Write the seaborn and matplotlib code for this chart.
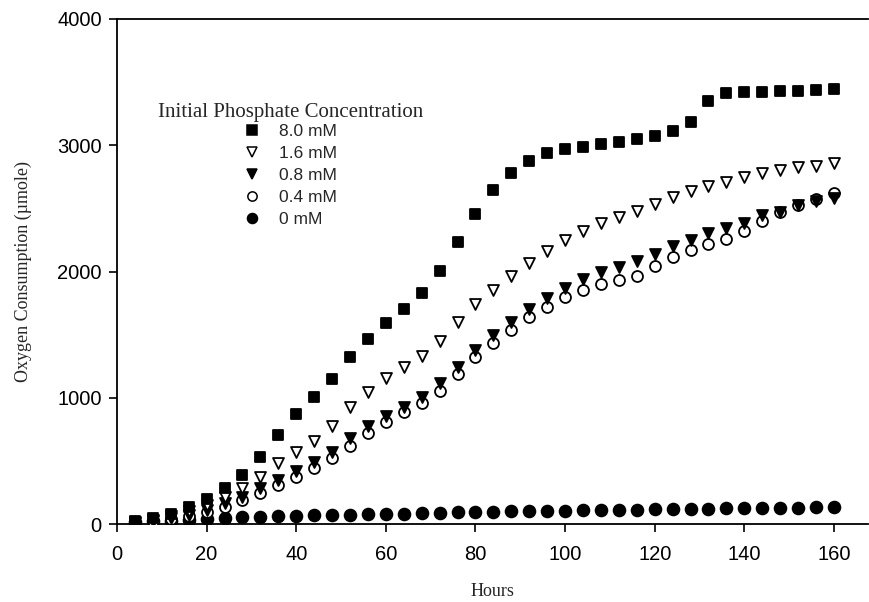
import numpy as np
import pandas as pd
import matplotlib
matplotlib.use("Agg")
import matplotlib.pyplot as plt
import seaborn as sns
from matplotlib.lines import Line2D

hours = list(range(4, 161, 4))

conc_8_0 = [24, 50, 80, 135, 198, 283, 388, 533, 705, 869,
            1008, 1151, 1320, 1463, 1590, 1700, 1827, 2006, 2236, 2455,
            2646, 2783, 2875, 2936, 2970, 2989, 3010, 3028, 3052, 3073,
            3113, 3184, 3350, 3411, 3419, 3424, 3432, 3432, 3438, 3446]
conc_1_6 = [15, 35, 60, 100, 150, 216, 283, 370, 481, 573,
            660, 776, 924, 1048, 1154, 1241, 1333, 1450, 1602, 1740,
            1853, 1967, 2070, 2165, 2250, 2322, 2382, 2429, 2482, 2535,
            2593, 2638, 2680, 2711, 2746, 2778, 2804, 2825, 2836, 2857]
conc_0_8 = [10, 25, 45, 75, 110, 164, 216, 283, 349, 422,
            489, 568, 679, 776, 858, 929, 1003, 1114, 1246, 1378,
            1497, 1602, 1700, 1788, 1872, 1940, 1996, 2038, 2083, 2139,
            2202, 2250, 2303, 2342, 2387, 2447, 2474, 2527, 2555, 2582]
conc_0_4 = [10, 22, 40, 65, 95, 137, 190, 243, 309, 375,
            446, 525, 620, 723, 810, 885, 956, 1056, 1188, 1320,
            1436, 1537, 1637, 1721, 1796, 1856, 1901, 1933, 1964, 2046,
            2117, 2170, 2218, 2257, 2323, 2400, 2474, 2527, 2571, 2619]
conc_0 = [15, 20, 25, 30, 40, 48, 53, 58, 62, 65,
          68, 71, 74, 77, 80, 83, 86, 89, 92, 95,
          97, 100, 102, 104, 106, 108, 110, 112, 114, 116,
          118, 120, 122, 124, 125, 127, 128, 130, 131, 133]

labels = ["8.0 mM", "1.6 mM", "0.8 mM", "0.4 mM", "0 mM"]
legend_title = "Initial Phosphate Concentration"
xticks = [0, 20, 40, 60, 80, 100, 120, 140, 160]
yticks = [0, 1000, 2000, 3000, 4000]

sns.set_style("ticks")
plt.rcParams['font.family'] = ['Liberation Sans', 'DejaVu Sans']

fig = plt.figure(figsize=(8.7, 6.02), dpi=100)
ax = fig.add_axes([117 / 870, 1 - 524 / 602, (868 - 117) / 870, (524 - 19) / 602])

series = {
    "8.0 mM": (conc_8_0, "s", "black", 60),
    "1.6 mM": (conc_1_6, "v", "white", 62),
    "0.8 mM": (conc_0_8, "v", "black", 62),
    "0.4 mM": (conc_0_4, "o", "white", 62),
    "0 mM": (conc_0, "o", "black", 72),
}
draw_order = ["0 mM", "0.4 mM", "0.8 mM", "1.6 mM", "8.0 mM"]
for i, lab in enumerate(draw_order):
    vals, mk, fc, sz = series[lab]
    df = pd.DataFrame({"Hours": hours, "O2": vals})
    sns.scatterplot(data=df, x="Hours", y="O2", marker=mk, s=sz,
                    color=fc, edgecolor="black", linewidth=1.3,
                    label=lab, ax=ax, zorder=3 + i, legend=False)

ax.set_xlim(0, 167.6)
ax.set_ylim(0, 4000)
ax.set_xticks(xticks)
ax.set_yticks(yticks)
ax.tick_params(axis="both", direction="out", length=6, width=1.2,
               labelsize=14.5, color="black", labelcolor="black")
ax.tick_params(axis="x", pad=9)
ax.tick_params(axis="y", pad=5)
for side in ["left", "bottom", "top"]:
    ax.spines[side].set_visible(True)
    ax.spines[side].set_linewidth(1.3)
    ax.spines[side].set_color("black")
ax.spines["right"].set_visible(False)

serif = ['Liberation Serif', 'DejaVu Serif']
ax.set_xlabel("Hours", family=serif, fontsize=13, labelpad=14)
ax.set_ylabel("Oxygen Consumption (\u00b5mole)", family=serif, fontsize=13, labelpad=18)

handles = []
for lab in labels:
    vals, mk, fc, sz = series[lab]
    handles.append(Line2D([], [], linestyle="none", marker=mk,
                          markersize=np.sqrt(sz) * 0.85, markerfacecolor=fc,
                          markeredgecolor="black", markeredgewidth=1.1))
leg = ax.legend(handles, labels,
                loc="upper left", bbox_to_anchor=(0.157, 0.806),
                frameon=False, fontsize=12.5, handletextpad=0.95,
                labelspacing=0.40, borderaxespad=0, handlelength=1.2)
ax.text(0.054, 0.797, legend_title, transform=ax.transAxes,
        family=serif, fontsize=15, ha="left", va="bottom")

fig.savefig("out.png", dpi=100)
